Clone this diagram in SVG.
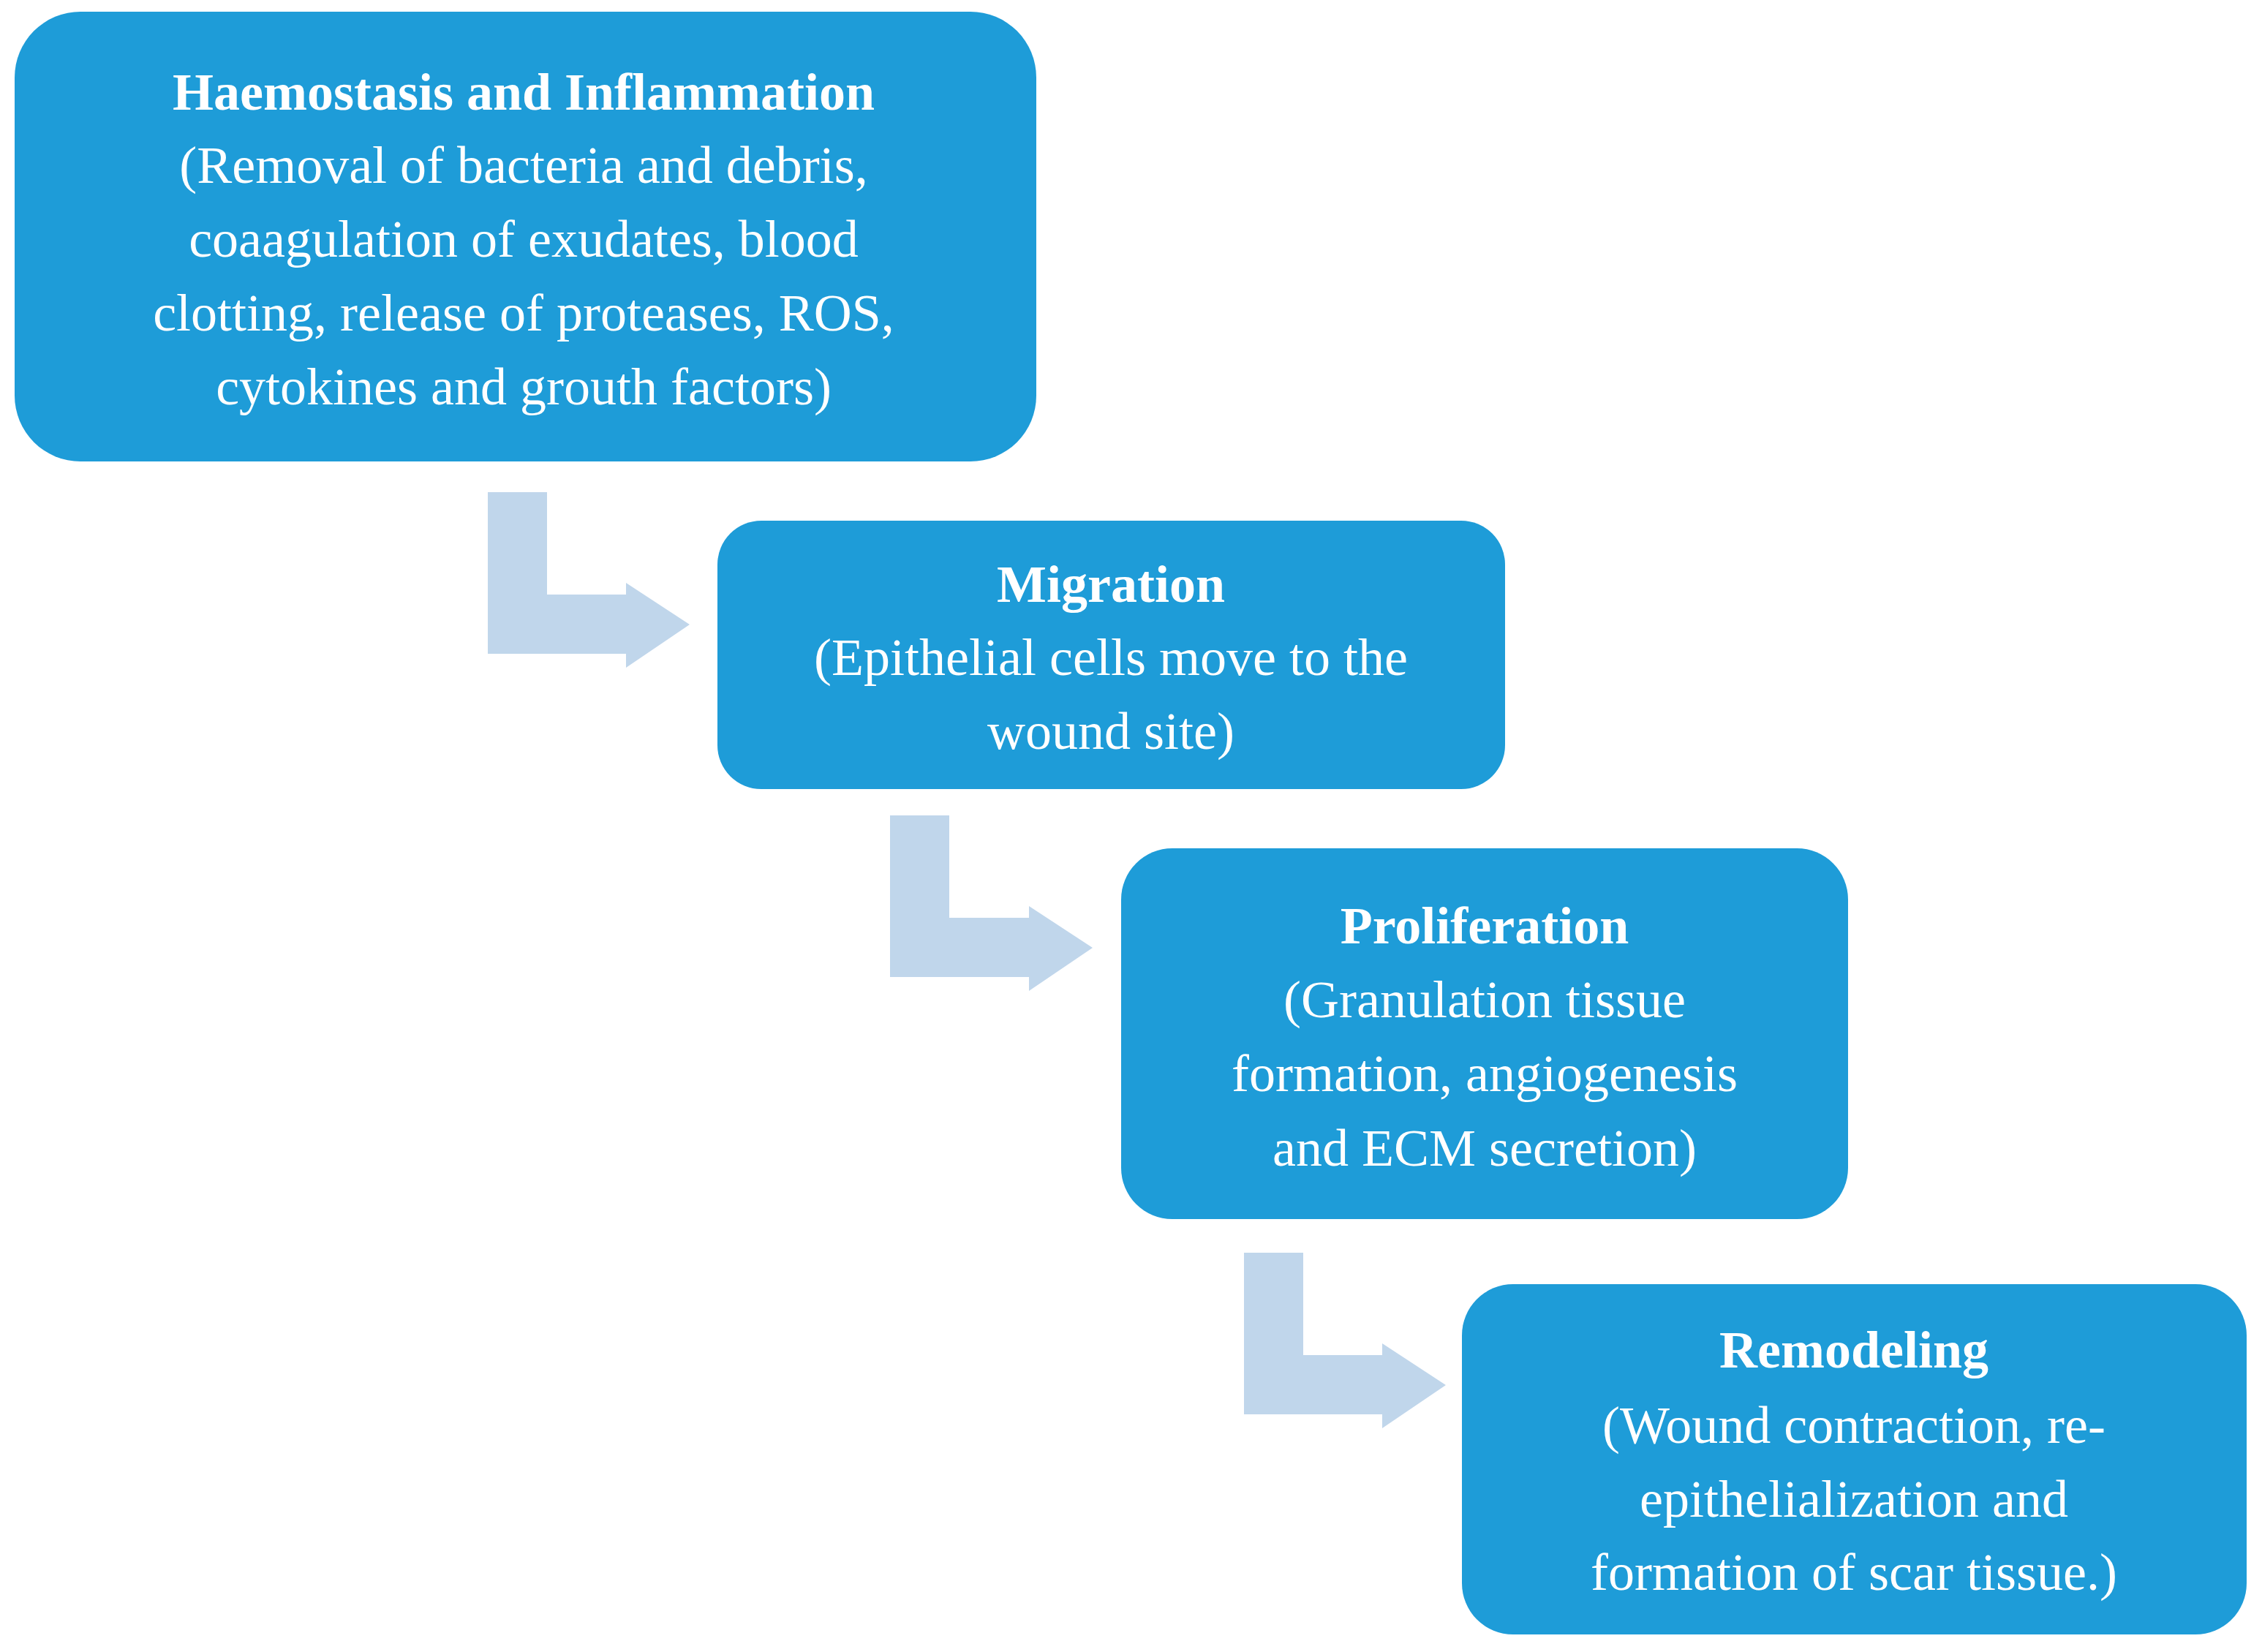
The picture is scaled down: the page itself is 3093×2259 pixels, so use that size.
<svg xmlns="http://www.w3.org/2000/svg" width="3093" height="2259" viewBox="0 0 3093 2259">
<style>
.box{fill:#1e9cd8}
.arr{fill:#c0d6eb}
text{font-family:"Liberation Serif",serif;font-size:72px;fill:#fff;text-anchor:middle}
.t{font-weight:bold}
</style>
<rect width="3093" height="2259" fill="#fff"/>
<g id="connectors">
<polygon class="arr" points="667,673 748,673 748,813 856,813 856,797 943,854 856,913 856,894 667,894"/>
<polygon class="arr" points="1217,1115 1298,1115 1298,1255 1407,1255 1407,1239 1494,1296 1407,1355 1407,1336 1217,1336"/>
<polygon class="arr" points="1701,1713 1782,1713 1782,1853 1890,1853 1890,1837 1977,1894 1890,1953 1890,1934 1701,1934"/>
</g>
<g id="n1">
<rect class="box" x="20" y="16" width="1397" height="615" rx="90"/>
<text x="716" y="150" class="t">Haemostasis and Inflammation</text>
<text x="716" y="250">(Removal of bacteria and debris,</text>
<text x="716" y="351">coaagulation of exudates, blood</text>
<text x="716" y="452">clotting, release of proteases, ROS,</text>
<text x="716" y="553">cytokines and grouth factors)</text>
</g>
<g id="n2">
<rect class="box" x="981" y="712" width="1077" height="367" rx="60"/>
<text x="1519" y="823" class="t">Migration</text>
<text x="1519" y="923">(Epithelial cells move to the</text>
<text x="1519" y="1024">wound site)</text>
</g>
<g id="n3">
<rect class="box" x="1533" y="1160" width="994" height="507" rx="70"/>
<text x="2030" y="1290" class="t">Proliferation</text>
<text x="2030" y="1391">(Granulation tissue</text>
<text x="2030" y="1492">formation, angiogenesis</text>
<text x="2030" y="1594">and ECM secretion)</text>
</g>
<g id="n4">
<rect class="box" x="1999" y="1756" width="1073" height="479" rx="70"/>
<text x="2535" y="1870" class="t">Remodeling</text>
<text x="2535" y="1973">(Wound contraction, re-</text>
<text x="2535" y="2074">epithelialization and</text>
<text x="2535" y="2174">formation of scar tissue.)</text>
</g>
</svg>
